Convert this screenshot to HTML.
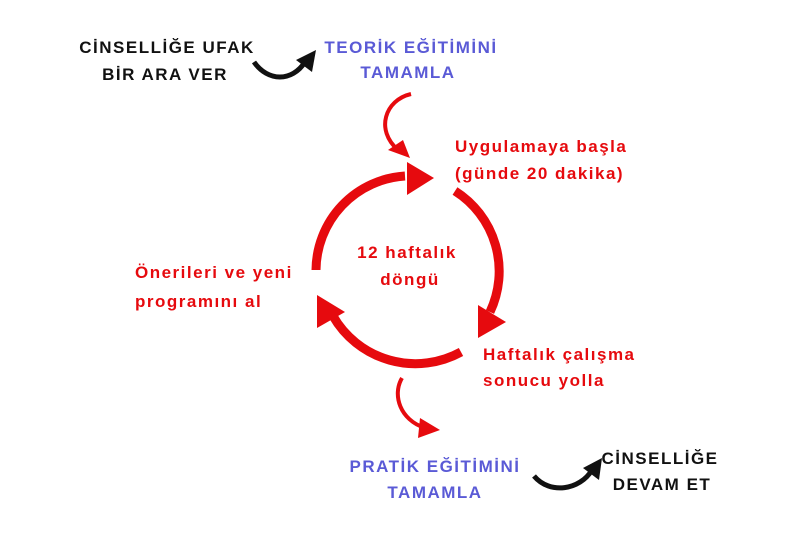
<!DOCTYPE html>
<html><head><meta charset="utf-8"><style>
html,body{margin:0;padding:0;background:#fff;}
body{width:800px;height:534px;position:relative;overflow:hidden;font-family:"Liberation Sans","DejaVu Sans",sans-serif;font-weight:bold;}
.t{position:absolute;white-space:nowrap;font-size:17px;line-height:26px;letter-spacing:1.5px;}
.c{transform:translateX(-50%);text-align:center;}
.k{color:#111;}.b{color:#5a5ad6;}.r{color:#e60a0e;}
</style></head><body>
<svg width="800" height="534" style="position:absolute;left:0;top:0">
<g fill="none" stroke="#e60a0e" stroke-width="9">
<path d="M316,270 A95,95 0 0 1 405,176"/>
<path d="M455,191 A95,95 0 0 1 490,312"/>
<path d="M461,352 A95,95 0 0 1 333,316"/>
</g>
<g fill="#e60a0e">
<polygon points="407,162 434,178 407,195"/>
<polygon points="478,305 506,322 478,338"/>
<polygon points="317,295 345,312 317,328"/>
</g>
<path d="M411,94 C385,100 375,130 398,150" fill="none" stroke="#e60a0e" stroke-width="4"/>
<polygon points="388,150 410,158 403,140" fill="#e60a0e"/>
<path d="M402,378 C392,395 400,420 425,428" fill="none" stroke="#e60a0e" stroke-width="4"/>
<polygon points="420,418 440,430 418,438" fill="#e60a0e"/>
<path d="M254,62 C268,82 292,82 305,62" fill="none" stroke="#111" stroke-width="5"/>
<polygon points="296,60 316,50 312,72" fill="#111"/>
<path d="M534,476 C550,495 580,490 592,470" fill="none" stroke="#111" stroke-width="5"/>
<polygon points="583,468 602,458 599,480" fill="#111"/>
</svg>
<div class="t k c" style="left:167px;top:35px">CİNSELLİĞE UFAK</div>
<div class="t k c" style="left:165px;top:62px">BİR ARA VER</div>
<div class="t b c" style="left:411px;top:35px">TEORİK EĞİTİMİNİ</div>
<div class="t b c" style="left:408px;top:60px">TAMAMLA</div>
<div class="t r" style="left:455px;top:134px">Uygulamaya başla</div>
<div class="t r" style="left:455px;top:161px">(günde 20 dakika)</div>
<div class="t r c" style="left:407px;top:240px">12 haftalık</div>
<div class="t r c" style="left:410px;top:267px">döngü</div>
<div class="t r" style="left:135px;top:260px">Önerileri ve yeni</div>
<div class="t r" style="left:135px;top:289px">programını al</div>
<div class="t r" style="left:483px;top:342px">Haftalık çalışma</div>
<div class="t r" style="left:483px;top:368px">sonucu yolla</div>
<div class="t b c" style="left:435px;top:454px">PRATİK EĞİTİMİNİ</div>
<div class="t b c" style="left:435px;top:480px">TAMAMLA</div>
<div class="t k c" style="left:660px;top:446px">CİNSELLİĞE</div>
<div class="t k c" style="left:662px;top:472px">DEVAM ET</div>
</body></html>
